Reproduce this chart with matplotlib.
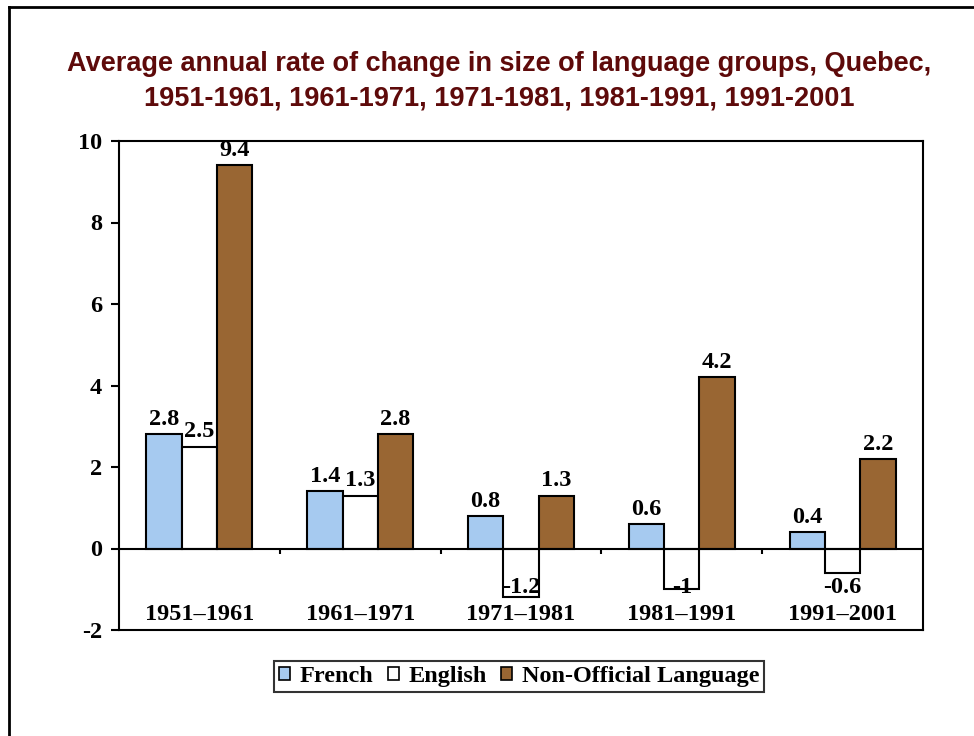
import matplotlib.pyplot as plt
import numpy as np
from matplotlib.patches import Patch
from matplotlib.lines import Line2D

periods = ["1951\u20131961", "1961\u20131971", "1971\u20131981", "1981\u20131991", "1991\u20132001"]
french = [2.8, 1.4, 0.8, 0.6, 0.4]
english = [2.5, 1.3, -1.2, -1, -0.6]
non_official = [9.4, 2.8, 1.3, 4.2, 2.2]
series_names = ["French", "English", "Non-Official Language"]
colors = ["#A6CAF0", "#FFFFFF", "#996633"]

W, H = 974, 736
fig = plt.figure(figsize=(W / 100, H / 100), dpi=100)
ax = fig.add_axes([119 / W, 1 - 630 / H, 804 / W, 489 / H])

serif = "Liberation Serif"
fs = 17.5

x = np.arange(len(periods))
width = 0.22
for i, vals in enumerate([french, english, non_official]):
    xs = x + (i - 1) * width
    ax.bar(xs, vals, width=width, color=colors[i], edgecolor="black", linewidth=1.5, zorder=3)
    for xx, v in zip(xs, vals):
        label = f"{v:g}"
        if v >= 0:
            ax.annotate(label, (xx, v), xytext=(0, 3), textcoords="offset points",
                        ha="center", va="bottom", fontsize=fs, fontweight="bold", family=serif, zorder=5)
        else:
            ax.text(xx, -0.95, label, ha="center", va="center",
                    fontsize=fs, fontweight="bold", family=serif, zorder=5)

ax.set_xlim(-0.5, len(periods) - 0.5)
ax.set_ylim(-2, 10)
ax.set_yticks(np.arange(-2, 11, 2))
ax.set_yticklabels([f"{t:g}" for t in np.arange(-2, 11, 2)], fontsize=fs, fontweight="bold", family=serif)
ax.tick_params(axis="y", direction="out", length=6, width=1.5, pad=6)
ax.set_xticks([])
for s in ax.spines.values():
    s.set_linewidth(1.5)

# zero line with category separator ticks
ax.axhline(0, color="black", linewidth=1.5, zorder=4)
ax.vlines(x[:-1] + 0.5, -0.13, 0, color="black", linewidth=1.5, zorder=4)

for xx, p in zip(x, periods):
    ax.text(xx, -1.63, p, ha="center", va="center", fontsize=fs, fontweight="bold", family=serif)

# title
title_color = "#5E0A0A"
fig.text(499 / W, 1 - 64 / H, "Average annual rate of change in size of language groups, Quebec,",
         ha="center", va="center", fontsize=19.5, fontweight="bold", family="Liberation Sans", color=title_color)
fig.text(499 / W, 1 - 98 / H, "1951-1961, 1961-1971, 1971-1981, 1981-1991, 1991-2001",
         ha="center", va="center", fontsize=19.5, fontweight="bold", family="Liberation Sans", color=title_color)

# legend
handles = [Patch(facecolor=c, edgecolor="black", linewidth=1.2) for c in colors]
leg = fig.legend(handles, series_names, loc="center", bbox_to_anchor=(519 / W, 1 - 676.5 / H),
                 ncol=3, frameon=True, fancybox=False, edgecolor="black",
                 prop={"family": serif, "weight": "bold", "size": fs},
                 handlelength=0.45, handleheight=0.45, handletextpad=0.4, columnspacing=0.6,
                 borderpad=0.2, borderaxespad=0)
leg.get_frame().set_linewidth(1.5)

# outer border (top and left visible)
fig.add_artist(Line2D([9 / W, 9 / W], [0, 1 - 7 / H], color="black", linewidth=2, transform=fig.transFigure))
fig.add_artist(Line2D([9 / W, 1], [1 - 7 / H, 1 - 7 / H], color="black", linewidth=2, transform=fig.transFigure))

fig.savefig("out.png", dpi=100)
